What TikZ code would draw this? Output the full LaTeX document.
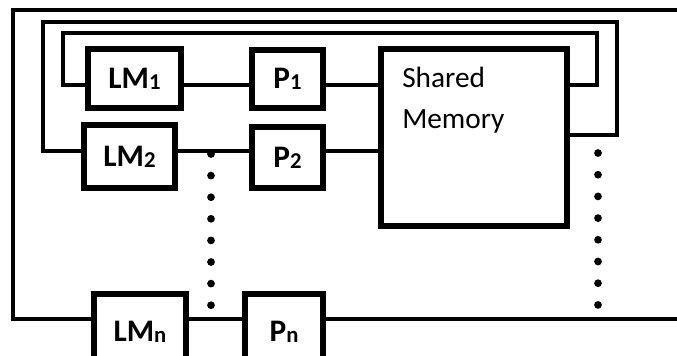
\documentclass[tikz,border=0pt]{standalone}
\usepackage{fontspec}
\setmainfont{Carlito}
\usepackage{tikz}
\usetikzlibrary{calc}
\newcommand{\lmsub}[1]{\raisebox{-0.04em}{\fontsize{17}{17}\selectfont #1}}

\begin{document}
\begin{tikzpicture}[
    x=0.75pt, y=-0.75pt,
    unit/.style={rectangle, draw=black, line width=4.2pt, fill=white, inner sep=0pt, font=\fontsize{23.5}{26}\selectfont\bfseries},
    wire/.style={line width=2.8pt},
    dot/.style={fill=black}
]
\clip (0,0) rectangle (677,355);

% local memories and processors
\node[unit, minimum width=69.75pt, minimum height=44.25pt] (LM1) at (134.5,78.5) {LM\lmsub{1}};
\node[unit, minimum width=53.25pt, minimum height=43.5pt] (P1) at (287.5,79) {P\lmsub{1}};
\node[unit, minimum width=68.25pt, minimum height=47.25pt] (LM2) at (129.5,156.5) {LM\lmsub{2}};
\node[unit, minimum width=53.25pt, minimum height=45.75pt] (P2) at (287.5,157.5) {P\lmsub{2}};
\node[unit, minimum width=69pt, minimum height=57pt] (LMn) at (140,332) {LM\lmsub{n}};
\node[unit, minimum width=58.5pt, minimum height=57pt] (Pn) at (284,332) {P\lmsub{n}};
\node[unit, minimum width=139.5pt, minimum height=132.75pt] (SM) at (474,137.5) {};
\node[anchor=base west, inner sep=0pt, align=left, font=\fontsize{22}{30.75}\selectfont] (smtext) at (402,128) {Shared\\Memory};

\coordinate (row1) at (0,85);
\coordinate (row2) at (0,151);
\coordinate (rown) at (0,319);
\coordinate (ret2) at (617,135);
\coordinate (topend) at (690,10);
\coordinate (botend) at (690,319);

% buses
\draw[wire] (LM1.east |- row1) -- (P1.west |- row1);
\draw[wire] (P1.east |- row1) -- (SM.west |- row1);
\draw[wire] (LM2.east |- row2) -- (P2.west |- row2);
\draw[wire] (P2.east |- row2) -- (SM.west |- row2);
\draw[wire] (LMn.east |- rown) -- (Pn.west |- rown);
\draw[wire] (Pn.east |- rown) -- (botend);

% loops back to the shared memory
\draw[wire] (LM1.west |- row1) -| (63,33) -| (597,85) -- (SM.east |- row1);
\draw[wire] (LM2.west |- row2) -| (43,22) -| (ret2) -- (SM.east |- ret2);
\draw[wire] (LMn.west |- rown) -| (13,10) -- (topend);

% dots
\foreach \k in {0,...,7} {
  \fill[dot] (211,154+21.6*\k) circle (2.9pt);
  \fill[dot] (598,153+21.7*\k) circle (2.9pt);
}
\end{tikzpicture}
\end{document}
